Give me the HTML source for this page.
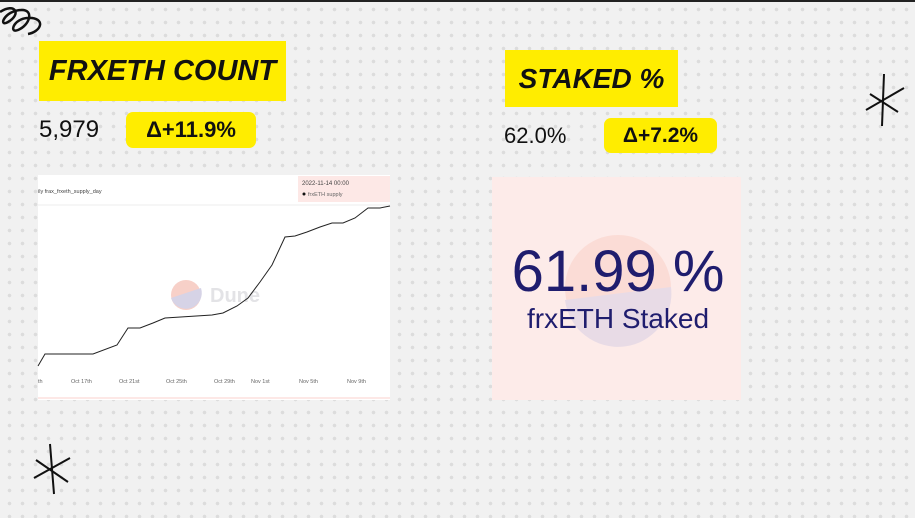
<!DOCTYPE html>
<html><head><style>
body{margin:0;width:915px;height:518px;overflow:hidden;background:#f1f1f1;font-family:"Liberation Sans",sans-serif;position:relative;
background-image:radial-gradient(circle,#dcdcdc 1.6px,transparent 2px);background-size:13px 13px;background-position:3px 3px}
.abs{position:absolute}
.title{background:#ffed00;font-family:"Liberation Sans",sans-serif;font-style:italic;font-weight:bold;color:#111;white-space:nowrap;overflow:hidden}
.pill{background:#ffed00;border-radius:7px;font-weight:bold;color:#111;text-align:center;white-space:nowrap}
</style></head><body>
<div class="abs" style="left:0;top:0;width:915px;height:2px;background:#222"></div>
<svg class="abs" style="left:0;top:0" width="60" height="50"><path d="M0 12 C15 2 22 14 8 22 C-2 28 4 10 22 10 C34 10 30 25 18 30 C8 34 14 16 32 18 C46 20 40 32 28 34" fill="none" stroke="#111" stroke-width="2.5"/></svg>
<div class="abs title" style="left:39px;top:41px;width:247px;height:60px;font-size:29px;line-height:60px;text-align:center">FRXETH COUNT</div>
<div class="abs" style="left:39px;top:116px;font-size:24px;color:#111;white-space:nowrap">5,979</div>
<div class="abs pill" style="left:126px;top:112px;width:130px;height:36px;font-size:22px;line-height:36px">Δ+11.9%</div>
<div class="abs title" style="left:505px;top:50px;width:173px;height:57px;font-size:28px;line-height:57px;text-align:center">STAKED %</div>
<div class="abs" style="left:504px;top:123px;font-size:22px;color:#111;white-space:nowrap">62.0%</div>
<div class="abs pill" style="left:604px;top:118px;width:113px;height:35px;font-size:21px;line-height:35px">Δ+7.2%</div>
<svg class="abs" style="left:860px;top:72px" width="50" height="60"><path d="M24 2 L22 54 M6 38 L44 16 M10 22 L38 40" stroke="#111" stroke-width="2" fill="none"/></svg>
<svg class="abs" style="left:28px;top:440px" width="50" height="60"><path d="M22 4 L26 54 M6 38 L42 18 M8 20 L40 42" stroke="#111" stroke-width="2" fill="none"/></svg>
<div class="abs" style="left:38px;top:175px;width:352px;height:225px;background:#fff"></div>
<svg class="abs" style="left:0;top:0" width="915" height="518">
<line x1="38" y1="205" x2="390" y2="205" stroke="#eee"/>
<line x1="38" y1="398" x2="390" y2="398" stroke="#fde8e6" stroke-width="2"/>
<rect x="298" y="176" width="92" height="26" fill="#fde8e6"/>
<text x="302" y="185" font-size="6" fill="#444">2022-11-14 00:00</text>
<circle cx="304" cy="194" r="1.5" fill="#111"/><text x="308" y="196" font-size="5.5" fill="#666">frxETH supply</text>
<text x="38" y="193" font-size="5.5" fill="#444">ily  frax_frxeth_supply_day</text>
<circle cx="186" cy="295" r="15" fill="#f7d0c8"/>
<path d="M171 298 L201 288 A15 15 0 0 1 171 298Z" fill="#d6d3e6"/>
<text x="210" y="302" font-size="20" font-weight="bold" fill="#e3e3e6">Dune</text>
<polyline fill="none" stroke="#222" stroke-width="1" points="38,366 45,354 93,354 117,345 128,328 140,328 153,323 165,318 212,315 223,313 237,306 248,298 260,282 272,265 285,237 295,236 307,232 320,227 332,223 343,223 355,218 368,208 380,208 390,206"/>
<g font-size="5.5" fill="#666"><text x="38" y="383">th</text><text x="71" y="383">Oct 17th</text><text x="119" y="383">Oct 21st</text><text x="166" y="383">Oct 25th</text><text x="214" y="383">Oct 29th</text><text x="251" y="383">Nov 1st</text><text x="299" y="383">Nov 5th</text><text x="347" y="383">Nov 9th</text></g>
<rect x="492" y="177" width="249" height="223" fill="#fdebe9"/>
<circle cx="618" cy="288" r="53" fill="#fbdcd6"/>
<path d="M565 300 L671 287 A53 53 0 0 1 565 300Z" fill="#e8dbe6"/>
<text x="618" y="291" font-size="58" text-anchor="middle" fill="#1f1d6e">61.99 %</text>
<text x="618" y="328" font-size="28" text-anchor="middle" fill="#1f1d6e">frxETH Staked</text>
</svg>
</body></html>
